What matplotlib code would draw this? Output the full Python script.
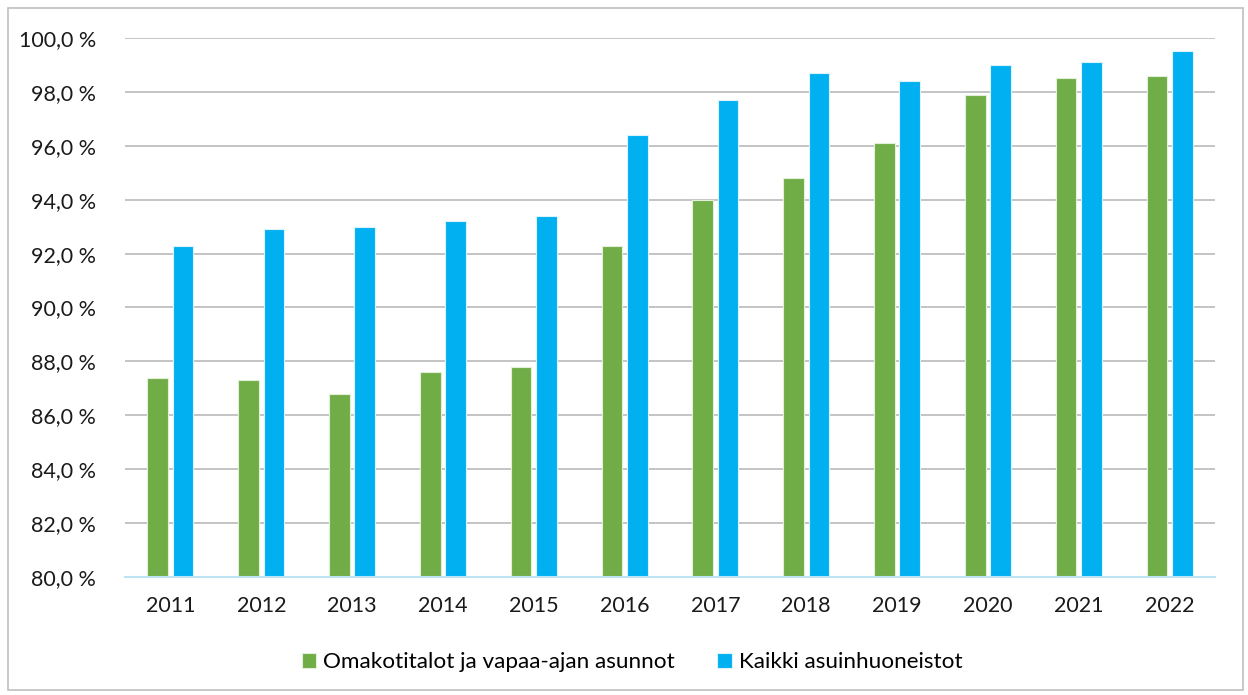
import matplotlib
matplotlib.use("Agg")
import matplotlib.pyplot as plt
import numpy as np
from matplotlib.patches import Rectangle
from matplotlib.ticker import FuncFormatter

plt.rcParams['font.family'] = ['Lato', 'DejaVu Sans']

years = ["2011", "2012", "2013", "2014", "2015", "2016", "2017", "2018", "2019", "2020", "2021", "2022"]
omakotitalot = [87.4, 87.3, 86.8, 87.6, 87.8, 92.3, 94.0, 94.8, 96.1, 97.9, 98.5, 98.6]
kaikki = [92.3, 92.9, 93.0, 93.2, 93.4, 96.4, 97.7, 98.7, 98.4, 99.0, 99.1, 99.5]
series_names = ["Omakotitalot ja vapaa-ajan asunnot", "Kaikki asuinhuoneistot"]

W, H = 1248, 695
fig = plt.figure(figsize=(W / 100, H / 100), dpi=100)
ax = fig.add_axes([125 / W, 1 - 577 / H, (1215 - 125) / W, (577 - 38) / H])

x = np.arange(len(years))
bw = 0.228
off = 0.14
ax.bar(x - off, omakotitalot, bw, color="#70AD47", edgecolor="#E2F0D9", linewidth=0.8,
       label=series_names[0], zorder=3)
ax.bar(x + off, kaikki, bw, color="#00B0F0", edgecolor="#DDF3FC", linewidth=0.8,
       label=series_names[1], zorder=3)

ax.set_ylim(80, 100)
ax.set_xlim(-0.5, len(years) - 0.5)
ax.set_yticks(np.arange(80, 100.1, 2))
ax.yaxis.set_major_formatter(FuncFormatter(lambda v, p: f"{v:.1f} %".replace(".", ",")))
ax.set_xticks(x)
ax.set_xticklabels(years)
ax.grid(axis="y", color="#BFBFBF", linewidth=1.3, zorder=0)
for s in ["top", "right", "left"]:
    ax.spines[s].set_visible(False)
ax.spines["bottom"].set_color("#BDE3F5")
ax.spines["bottom"].set_linewidth(1.5)
ax.spines["bottom"].set_zorder(4)
ax.tick_params(axis="both", length=0, labelsize=15.5, colors="#1a1a1a")
ax.tick_params(axis="y", pad=21)
ax.tick_params(axis="x", pad=14)

fig.legend(loc="center", bbox_to_anchor=(632 / W, 1 - 662 / H), ncol=2, frameon=False,
           fontsize=16.2, handlelength=0.65, handleheight=0.65, handletextpad=0.3,
           columnspacing=1.9)

fig.patches.append(Rectangle((8 / W, 1 - 690 / H), (1243 - 8) / W, (690 - 8) / H,
                             transform=fig.transFigure, fill=False,
                             edgecolor="#BFBFBF", linewidth=1.2))

fig.savefig("out.png", dpi=100, facecolor="white")
